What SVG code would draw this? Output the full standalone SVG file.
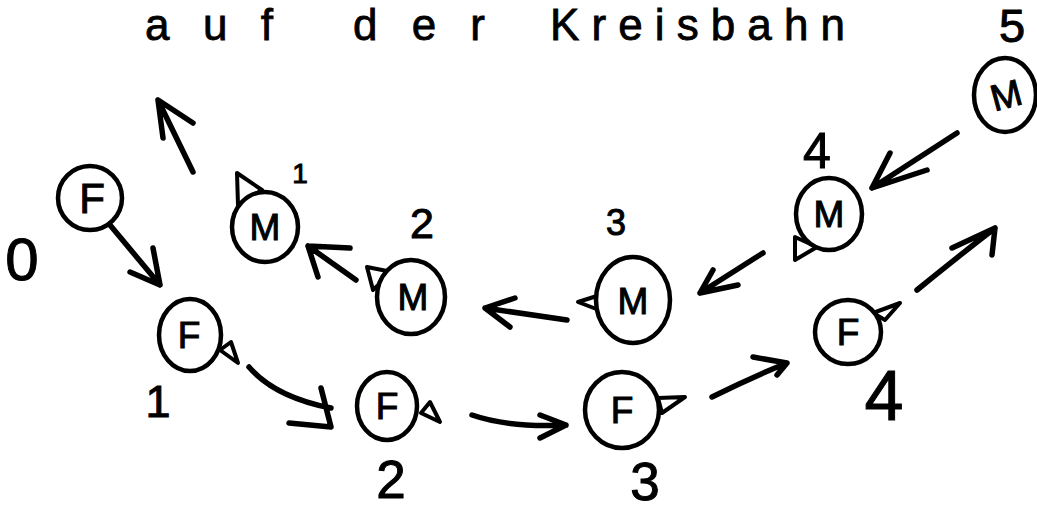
<svg xmlns="http://www.w3.org/2000/svg" width="1037" height="511" viewBox="0 0 1037 511">
<style>
.bg{fill:#fff}
.c{fill:#fff;stroke:#000;stroke-width:4.5}
.ear{fill:none;stroke:#000;stroke-width:4;stroke-linejoin:round}
.ln{fill:none;stroke:#000;stroke-width:5.5;stroke-linecap:round;stroke-linejoin:round}
.t{font-family:"Liberation Sans",Arial,sans-serif;fill:#000;text-anchor:middle;stroke:#000;stroke-width:1}
.lt{font-family:"Liberation Sans",Arial,sans-serif;fill:#000;font-size:37px;text-anchor:middle;stroke:#000;stroke-width:1}
.title{font-family:"Liberation Sans",Arial,sans-serif;fill:#000;font-size:44px;stroke:#000;stroke-width:0.8}
</style>
<rect class="bg" x="0" y="0" width="1037" height="511"/>
<g id="title">
<text class="title" x="145" y="40" textLength="128" lengthAdjust="spacing">auf</text>
<text class="title" x="353" y="40" textLength="132" lengthAdjust="spacing">der</text>
<text class="title" x="550" y="40" textLength="295" lengthAdjust="spacing">Kreisbahn</text>
</g>
<g id="connectors">
<path class="ln" d="M193,172 L158,100 M163,138 L158,100 L193,123"/>
<path class="ln" d="M110,225 L160,285 M153,248 L160,285 L130,272"/>
<path class="ln" d="M356,280 L308,246 M350,248 L308,246 L318,277"/>
<path class="ln" d="M567,320 L485,308 M515,298 L485,308 L510,327"/>
<path class="ln" d="M763,253 L700,293 M713,270 L700,293 L738,285"/>
<path class="ln" d="M957,133 L872,188 M890,153 L872,188 L927,170"/>
<path class="ln" d="M917,290 Q960,255 995,228 M952,248 L995,228 L992,255"/>
<path class="ln" d="M712,397 Q750,378 787,363 M753,357 L787,363 L777,375"/>
<path class="ln" d="M472,415 Q510,428 566,425 M540,415 L566,425 L540,438"/>
<path class="ln" d="M249,367 Q275,397 331,408 M321,388 L331,427 L289,423"/>
</g>
<g id="F0">
<ellipse class="c" cx="90" cy="198" rx="32" ry="32"/>
<text class="lt" x="92" y="213" style="font-size:42px">F</text>
<text class="t" x="22" y="280" style="font-size:60px">0</text>
</g>
<g id="M1">
<polygon class="ear" points="237,173 262,190 238,205"/>
<ellipse class="c" cx="265" cy="227" rx="33" ry="35"/>
<text class="lt" x="265" y="240">M</text>
<text class="t" x="300" y="183" style="font-size:28px">1</text>
</g>
<g id="F1">
<polygon class="ear" points="220,350 231,342 238,363"/>
<ellipse class="c" cx="190" cy="335" rx="31" ry="36"/>
<text class="lt" x="189" y="348">F</text>
<text class="t" x="158" y="417" style="font-size:45px">1</text>
</g>
<g id="M2">
<polygon class="ear" points="367,267 392,272 373,290"/>
<ellipse class="c" cx="411" cy="297" rx="34" ry="37"/>
<text class="lt" x="413" y="310">M</text>
<text class="t" x="422" y="238" style="font-size:43px">2</text>
</g>
<g id="M3">
<polygon class="ear" points="578,302 600,295 599,310"/>
<ellipse class="c" cx="633" cy="300" rx="37" ry="43"/>
<text class="lt" x="633" y="314">M</text>
<text class="t" x="616" y="235" style="font-size:36px">3</text>
</g>
<g id="M4">
<polygon class="ear" points="795,260 795,237 817,247"/>
<ellipse class="c" cx="829" cy="214" rx="33" ry="36"/>
<text class="lt" x="829" y="227">M</text>
<text class="t" x="817" y="168" style="font-size:50px">4</text>
</g>
<g id="M5">
<ellipse class="c" cx="1005" cy="95" rx="31" ry="37"/>
<text class="lt" x="1006" y="108" transform="rotate(-15 1006 95)">M</text>
<text class="t" x="1012" y="42" style="font-size:47px">5</text>
</g>
<g id="F2">
<polygon class="ear" points="421,413 430,402 440,422"/>
<ellipse class="c" cx="387" cy="406" rx="30" ry="34"/>
<text class="lt" x="387" y="419">F</text>
<text class="t" x="391" y="498" style="font-size:53px">2</text>
</g>
<g id="F3">
<polygon class="ear" points="658,398 685,397 662,413"/>
<ellipse class="c" cx="622" cy="410" rx="37" ry="38"/>
<text class="lt" x="622" y="423">F</text>
<text class="t" x="645" y="500" style="font-size:53px">3</text>
</g>
<g id="F4">
<polygon class="ear" points="873,313 900,303 885,320"/>
<ellipse class="c" cx="848" cy="332" rx="33" ry="32"/>
<text class="lt" x="848" y="345">F</text>
<text class="t" x="884" y="420" style="font-size:70px">4</text>
</g>
</svg>
